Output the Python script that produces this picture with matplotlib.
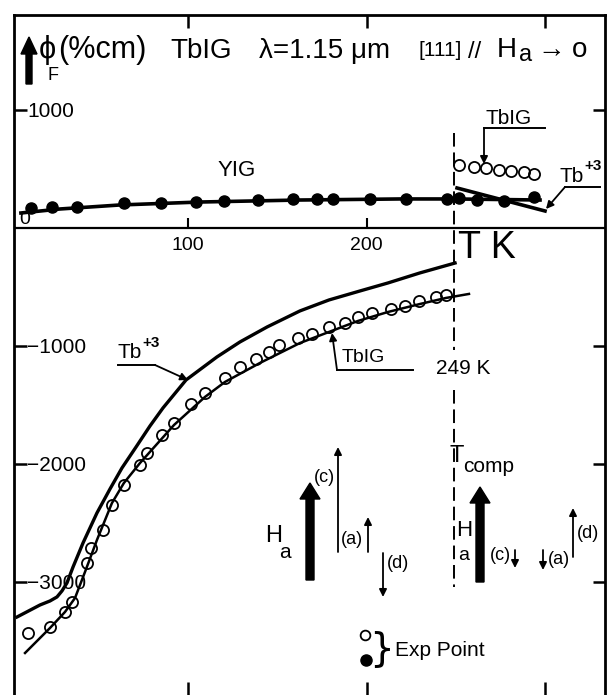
import matplotlib
matplotlib.use('Agg')
import matplotlib.pyplot as plt
import matplotlib.patches as mpatches
from matplotlib.lines import Line2D

plt.rcParams['font.family'] = ['Liberation Sans', 'DejaVu Sans']

# ---------------- data (T in K, Faraday rotation in deg/cm) ----------------
# YIG experimental points (filled) and fitted curve
yig_T = [12, 24, 38, 64, 85, 104.5, 120, 139, 159, 172, 181, 202, 222, 245, 252, 262, 277, 294]
yig_v = [170, 178, 178, 212, 212, 220, 229, 237, 246, 246, 246, 246, 246, 246, 254, 237, 229, 263]
yig_fit_T = [6.4, 28.3, 61.9, 106.7, 162.7, 218.8, 249.6, 297.2]
yig_fit_v = [127, 161, 195, 220, 237, 246, 246, 237]

# TbIG above T_comp (open circles) and Tb+3 contribution above T_comp
tbig_hi_T = [252, 260, 267, 274, 281, 288, 294]
tbig_hi_v = [534, 517, 508, 492, 483, 475, 458]
tb3_hi_T = [250.7, 300]
tb3_hi_v = [339, 144]

# TbIG below T_comp (open circles) and its fitted curve
tbig_lo_T = [10.4, 22.7, 31.1, 35.0, 43.4, 45.7, 52.4, 57.4, 64.1, 73.1, 77.0, 85.4, 92.2,
             101.7, 109.5, 120.7, 129.1, 138.1, 145.4, 151.0, 161.6, 169.5, 178.9, 187.9,
             195.2, 203.1, 213.7, 221.6, 229.4, 238.9, 244.5]
tbig_lo_v = [-3432, -3381, -3254, -3169, -2839, -2712, -2559, -2347, -2178, -2008, -1907, -1754,
             -1653, -1492, -1398, -1271, -1178, -1110, -1051, -992, -932, -898, -839, -805,
             -754, -720, -686, -661, -619, -585, -568]
tbig_fit_T = [8.7, 22.7, 31.1, 36.7, 42.3, 49.0, 57.4, 64.1, 73.1, 92.2, 109.5, 120.7, 140.3,
              162.7, 179.0, 195.2, 212.0, 230.0, 244.5, 257.4]
tbig_fit_v = [-3602, -3390, -3254, -3136, -2915, -2644, -2331, -2161, -1992, -1669, -1432,
              -1305, -1144, -975, -881, -788, -712, -644, -593, -559]

# Tb+3 contribution below T_comp
tb3_lo_T = [4.2, 17.1, 22.7, 26.6, 29.4, 32.2, 35.6, 41.2, 49.0, 56.3, 63.0, 70.9, 78.7, 86.0,
            98.9, 116.2, 129.1, 144.3, 162.7, 179.0, 196.3, 212.0, 229.9, 249.6]
tb3_lo_v = [-3297, -3195, -3161, -3127, -3076, -3008, -2873, -2669, -2415, -2212, -2034, -1856,
            -1678, -1525, -1288, -1093, -966, -839, -703, -610, -534, -466, -381, -297]

T_comp = 249
yticks = [1000, -1000, -2000, -3000]
ytick_labels = ['1000', '\u22121000', '\u22122000', '\u22123000']
xticks = [100, 200, 300]
mid_ticks = [100, 200]
mid_labels = ['100', '200']

# ---------------- figure ----------------
W, H = 608, 695
fig = plt.figure(figsize=(W / 100, H / 100), dpi=100)
ax = fig.add_axes([13.6 / W, 0, (605 - 13.6) / W, (H - 15) / H])
ax.set_xlim(2.3, 333.6)
ax.set_ylim(-3958, 1805)

for s in ['left', 'right', 'top']:
    ax.spines[s].set_linewidth(2.0)
ax.spines['bottom'].set_visible(False)

ax.set_xticks(xticks)
ax.tick_params(axis='x', direction='in', length=9.5, width=1.8, top=True, bottom=True,
               labelbottom=False, labeltop=False)
ax.set_yticks(yticks)
ax.set_yticklabels(ytick_labels)
ax.tick_params(axis='y', direction='in', length=9, width=1.8, left=True, right=True,
               labelleft=True, labelright=False, pad=-10, labelsize=15)
for lab in ax.get_yticklabels():
    lab.set_horizontalalignment('left')

# middle temperature axis
ax.axhline(0, color='k', lw=1.6)
ax.vlines(mid_ticks, 0, 85, color='k', lw=1.5)
for t, lab in zip(mid_ticks, mid_labels):
    ax.text(t, -145, lab, ha='center', va='center', fontsize=14)
ax.text(5.5, 76, '0', ha='left', va='center', fontsize=14)
ax.text(251.3, -170, 'T K', ha='left', va='center', fontsize=27)

# T_comp dashed line
ax.plot([T_comp, T_comp], [805, -1034], color='k', lw=1.4, ls=(0, (7, 3)))
ax.plot([T_comp, T_comp], [-1373, -3042], color='k', lw=1.4, ls=(0, (7, 3)))

# curves
ax.plot(yig_fit_T, yig_fit_v, color='k', lw=2.6, zorder=3)
ax.plot(yig_T, yig_v, 'o', color='k', ms=8, zorder=4)
ax.plot(tb3_hi_T, tb3_hi_v, color='k', lw=2.6, zorder=3)
ax.plot(tbig_hi_T, tbig_hi_v, 'o', mfc='none', mec='k', ms=8, mew=1.3, zorder=4)
ax.plot(tb3_lo_T, tb3_lo_v, color='k', lw=2.4, zorder=3, solid_joinstyle='round')
ax.plot(tbig_fit_T, tbig_fit_v, color='k', lw=1.8, zorder=3, solid_joinstyle='round')
ax.plot(tbig_lo_T, tbig_lo_v, 'o', mfc='none', mec='k', ms=8, mew=1.3, zorder=4)

# ---------------- helpers in image-pixel coordinates ----------------
tr = fig.dpi_scale_trans


def P(x, y):
    return (x / 100, (H - y) / 100)


def txt(x, y, s, size, ha='center', va='center', **kw):
    fig.text(x / 100, (H - y) / 100, s, transform=tr, fontsize=size, ha=ha, va=va, **kw)


def seg(pts, lw=1.4):
    xs = [p[0] / 100 for p in pts]
    ys = [(H - p[1]) / 100 for p in pts]
    fig.add_artist(Line2D(xs, ys, transform=tr, color='k', lw=lw))


def thin_arrow(x0, y0, x1, y1, lw=1.3, head=11):
    ax.annotate('', xy=P(x1, y1), xytext=P(x0, y0), xycoords=tr, textcoords=tr,
                arrowprops=dict(arrowstyle='-|>', lw=lw, color='k', mutation_scale=head,
                                shrinkA=0, shrinkB=0))


def thick_arrow(x, y0, y1, w, hw, hl):
    a = mpatches.FancyArrow(x / 100, (H - y0) / 100, 0, (y0 - y1) / 100, width=w / 100,
                            head_width=hw / 100, head_length=hl / 100,
                            length_includes_head=True, color='k', transform=tr)
    fig.add_artist(a)


# ---------------- title ----------------
thick_arrow(29, 84, 37, 6, 16, 17)
txt(47, 50, '\u03d5', 22)
txt(53, 76, 'F', 13)
txt(102, 50, '(%cm)', 22)
txt(201, 51, 'TbIG', 20)
txt(325, 51, '\u03bb=1.15 \u03bcm', 20)
txt(440, 50, '[111]', 15)
txt(475, 52, '//', 17)
txt(507, 50, 'H', 20)
txt(526, 55, 'a', 17)
txt(551, 50, '\u2192', 20, fontweight='bold')
txt(580, 50, 'o', 20)

# ---------------- upper annotations ----------------
txt(237, 171, 'YIG', 16)
txt(509, 119, 'TbIG', 15)
seg([(545, 128), (484, 128)])
thin_arrow(484, 128, 484, 164)
txt(560, 176, 'Tb', 15, ha='left')
txt(584, 166, '+3', 11, ha='left', fontweight='bold')
seg([(600, 187), (565, 187)])
thin_arrow(565, 187, 546, 209)

# ---------------- lower annotations ----------------
txt(117, 352, 'Tb', 15, ha='left')
txt(142, 343, '+3', 11, ha='left', fontweight='bold')
seg([(118, 365), (155, 365)])
thin_arrow(155, 365, 188, 380)

txt(342, 357, 'TbIG', 14, ha='left')
seg([(413, 370), (337, 370)])
thin_arrow(337, 370, 332, 333)
txt(463, 368, '249 K', 15)

txt(450, 456, 'T', 17, ha='left')
txt(463, 466, 'comp', 15, ha='left')

# left field group
thick_arrow(310, 580, 483, 8, 20, 16)
txt(274, 536, 'H', 17)
txt(285, 553, 'a', 15)
thin_arrow(338, 552, 338, 447)
txt(324, 478, '(c)', 13)
thin_arrow(368, 552, 368, 517)
txt(352, 540, '(a)', 13)
thin_arrow(383, 553, 383, 597)
txt(398, 564, '(d)', 13)

# right field group
thick_arrow(480, 582, 487, 8, 20, 16)
txt(464, 531, 'H', 16)
txt(464, 556, 'a', 14)
thin_arrow(515, 550, 515, 568)
txt(500, 556, '(c)', 13)
thin_arrow(543, 550, 543, 570)
txt(559, 559, '(a)', 13)
thin_arrow(573, 557, 573, 508)
txt(588, 534, '(d)', 13)

# legend
fig.add_artist(Line2D([3.65], [(H - 635) / 100], transform=tr, marker='o', mfc='none',
                      mec='k', ms=7, mew=1.3))
fig.add_artist(Line2D([3.66], [(H - 660) / 100], transform=tr, marker='o', color='k', ms=8))
txt(381, 649, '}', 28, family=['DejaVu Sans'])
txt(440, 651, 'Exp Point', 15)

fig.savefig('out.png', dpi=100)
